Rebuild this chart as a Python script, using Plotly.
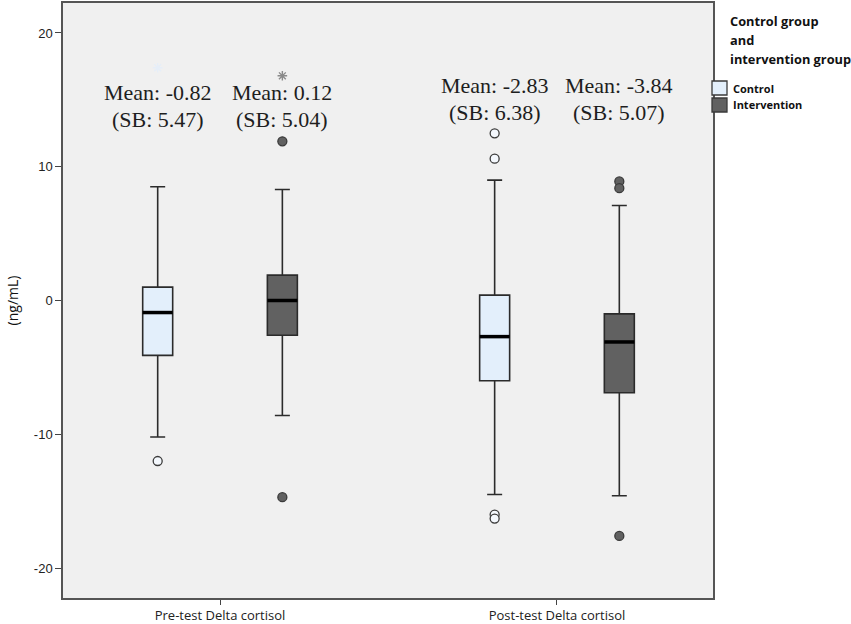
import plotly.graph_objects as go

# Datos (ng/mL)
grupos = ["Pre-test Delta cortisol", "Post-test Delta cortisol"]

control_q1 = [-4.1, -6.0]
control_mediana = [-0.9, -2.7]
control_q3 = [1.0, 0.4]
control_bigote_inf = [-10.2, -14.5]
control_bigote_sup = [8.5, 9.0]
control_atipicos = [[-12.0], [12.5, 10.6, -16.0, -16.3]]
control_extremos = [[17.4], []]

interv_q1 = [-2.6, -6.9]
interv_mediana = [0.0, -3.1]
interv_q3 = [1.9, -1.0]
interv_bigote_inf = [-8.6, -14.6]
interv_bigote_sup = [8.3, 7.1]
interv_atipicos = [[11.9, -14.7], [8.9, 8.4, -17.6]]
interv_extremos = [[16.8], []]

medias_control = ["Mean: -0.82", "Mean: -2.83"]
sd_control = ["(SB: 5.47)", "(SB: 6.38)"]
medias_interv = ["Mean: 0.12", "Mean: -3.84"]
sd_interv = ["(SB: 5.04)", "(SB: 5.07)"]

yticks = [-20, -10, 0, 10, 20]
ytick_text = ["-20", "-10", "0", "10", "20"]

# posiciones (pixeles del area de trazado: 63..713 x 3..598)
centros = [1, 2]
desplaz = 0.185
ancho = 0.089
altura_media = [15.55, 16.1]
altura_sd = [13.55, 14.05]
W, H = 851, 624
L, R, T, B = 63, 138, 3, 26


def px_x(p):
    return (p - L) / (W - L - R)


def px_y(p):
    return (H - B - p) / (H - T - B)


series = [
    ("Control", -desplaz, "#e3effb", "#f4f8fd", "#e6eef8", control_q1, control_mediana, control_q3,
     control_bigote_inf, control_bigote_sup, control_atipicos, control_extremos, medias_control, sd_control),
    ("Intervention", desplaz, "#616161", "#616161", "#8a8a8a", interv_q1, interv_mediana, interv_q3,
     interv_bigote_inf, interv_bigote_sup, interv_atipicos, interv_extremos, medias_interv, sd_interv),
]

fig = go.Figure()
for i, (nombre, dx, relleno, relleno_pto, color_ext, q1, med, q3, inf, sup, atip, extr, medias, sds) in enumerate(series):
    xs = [c + dx for c in centros]
    fig.add_trace(go.Box(
        x=xs, q1=q1, median=med, q3=q3, lowerfence=inf, upperfence=sup,
        name=nombre, width=ancho, whiskerwidth=0.5,
        fillcolor=relleno, line=dict(color="#2b2b2b", width=1.6),
        hoverinfo="skip", showlegend=False,
    ))
    # mediana gruesa
    for x, m in zip(xs, med):
        fig.add_trace(go.Scatter(
            x=[x - ancho / 2, x + ancho / 2], y=[m, m], mode="lines",
            line=dict(color="black", width=3.5), showlegend=False, hoverinfo="skip"))
    # atipicos
    px_, py_ = [], []
    for x, vals in zip(xs, atip):
        px_ += [x] * len(vals)
        py_ += vals
    fig.add_trace(go.Scatter(
        x=px_, y=py_, mode="markers", showlegend=False,
        marker=dict(symbol="circle", size=9, color=relleno_pto,
                    line=dict(color="#3a3a3a", width=1.3))))
    ex, ey = [], []
    for x, vals in zip(xs, extr):
        ex += [x] * len(vals)
        ey += vals
    fig.add_trace(go.Scatter(
        x=ex, y=ey, mode="markers", showlegend=False,
        marker=dict(symbol="asterisk", size=8, line=dict(color=color_ext, width=1.4))))
    for x, t1, t2, h1, h2 in zip(xs, medias, sds, altura_media, altura_sd):
        fig.add_annotation(x=x, y=h1, xref="x", yref="y", text=t1, showarrow=False,
                           font=dict(family="Liberation Serif", size=22, color="#1e1e1e"))
        fig.add_annotation(x=x, y=h2, xref="x", yref="y", text=t2, showarrow=False,
                           font=dict(family="Liberation Serif", size=22, color="#1e1e1e"))

    # leyenda manual
    y_item = 88 + 17 * i
    fig.add_shape(type="rect", xref="paper", yref="paper",
                  x0=px_x(712), x1=px_x(727), y0=px_y(y_item + 7), y1=px_y(y_item - 7),
                  fillcolor=relleno, line=dict(color="#3a3a3a", width=1.3))
    fig.add_annotation(x=px_x(731), y=px_y(y_item), xref="paper", yref="paper",
                       xanchor="left", yanchor="middle", text="<b>" + nombre + "</b>",
                       showarrow=False, font=dict(family="Open Sans", size=11, color="#111"))

titulo_leyenda = ["Control group", "and", "intervention group"]
for j, linea in enumerate(titulo_leyenda):
    fig.add_annotation(x=px_x(728), y=px_y(21 + 19 * j), xref="paper", yref="paper",
                       xanchor="left", yanchor="middle", text="<b>" + linea + "</b>",
                       showarrow=False, font=dict(family="Open Sans", size=12.8, color="#111"))

fig.update_layout(
    width=W, height=H,
    margin=dict(l=L, r=R, t=T, b=B),
    paper_bgcolor="white", plot_bgcolor="#f0f0f0",
    font=dict(family="Liberation Sans", size=12, color="#222"),
    showlegend=False,
)
fig.update_xaxes(
    range=[0.534, 2.463], tickvals=centros, ticktext=grupos, automargin=False,
    ticks="outside", ticklen=5, tickcolor="#444", showline=True, mirror=True,
    linecolor="#555", linewidth=1.5, showgrid=False, zeroline=False,
    tickfont=dict(family="Open Sans", size=13, color="#222"),
)
fig.update_yaxes(
    range=[-22.24, 22.24], tickvals=yticks, ticktext=ytick_text, automargin=False,
    ticks="outside", ticklen=6, tickcolor="#444", showline=True, mirror=True,
    linecolor="#555", linewidth=1.5, showgrid=False, zeroline=False,
    tickfont=dict(family="Liberation Sans", size=13, color="#222"),
    title=dict(text="(ng/mL)", font=dict(family="Open Sans", size=14, color="#111"), standoff=12),
)

# quitar el margen del body para que el grafico empiece en (0, 0)
fig.write_html("out.html", config={"displayModeBar": False},
               post_script="document.body.style.margin='0px';")
